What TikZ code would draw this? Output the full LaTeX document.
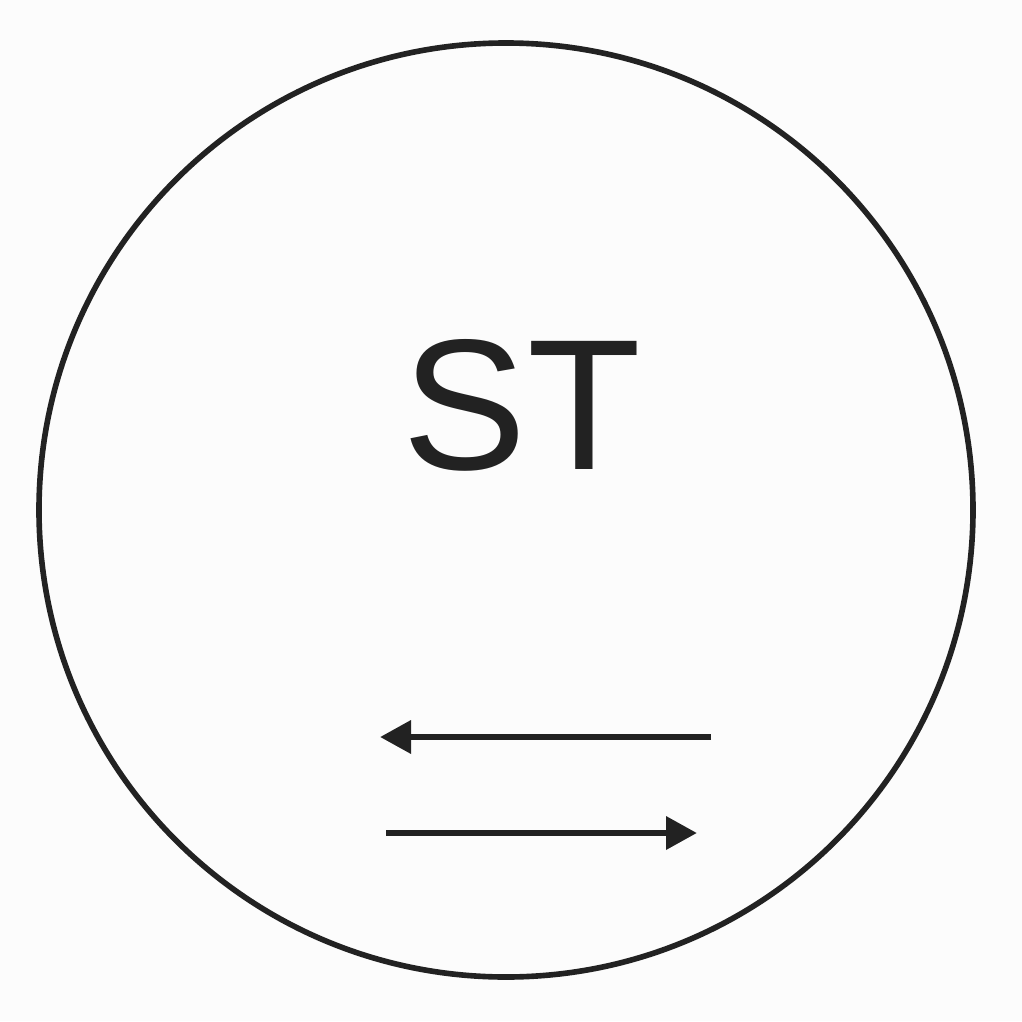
\documentclass[tikz,border=0pt]{standalone}
\usepackage{fontspec}
\setmainfont{Liberation Sans}
\usetikzlibrary{arrows.meta}
\definecolor{ink}{HTML}{222222}
\tikzset{
  >={Triangle[length=3.1mm,width=3.2mm]},
}
\tikzstyle{rim}=[line width=1.6pt,draw=ink]
\tikzstyle{flow}=[line width=1.9pt,draw=ink,->]
\tikzstyle{every node}=[text=ink]
\begin{document}
\begin{tikzpicture}
    \fill[white!99!black] (0,0) rectangle (10.22,10.21);
    \useasboundingbox (0,0) rectangle (10.22,10.21);
    \node[rim,circle,minimum size=9.34cm,inner sep=0pt] (station) at (5.06,5.11) {};
    \node[anchor=base,font=\fontsize{53pt}{58pt}\selectfont,inner sep=0pt] (label) at (5.22,5.52) {ST};
    \coordinate (leftA) at (3.80,2.84);
    \coordinate (rightA) at (7.11,2.84);
    \coordinate (leftB) at (3.86,1.88);
    \coordinate (rightB) at (6.97,1.88);
    \draw[flow] (rightA)--(leftA);
    \draw[flow] (leftB)--(rightB);
  \end{tikzpicture}
\end{document}
